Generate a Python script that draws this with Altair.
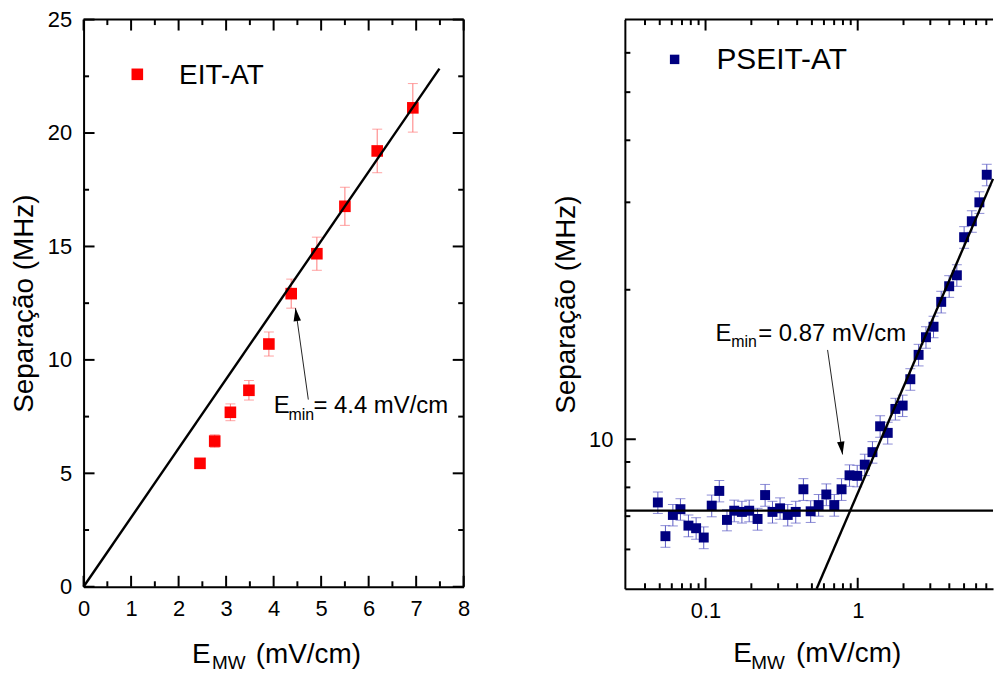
import altair as alt
import pandas as pd

FONT = "Liberation Sans"

# ---------------- data: left panel (EIT-AT) ----------------
eit_x = [2.45, 2.76, 3.09, 3.48, 3.90, 4.37, 4.91, 5.50, 6.18, 6.93]
eit_y = [5.44, 6.42, 7.69, 8.66, 10.70, 12.92, 14.68, 16.77, 19.21, 21.11]
eit_err = [0.18, 0.28, 0.37, 0.43, 0.53, 0.64, 0.73, 0.84, 0.96, 1.07]
eit_fit_x = [0.0, 7.49]
eit_fit_y = [0.0, 22.84]
eit_arrow = {"x1": [4.73], "y1": [8.25], "x2": [4.46], "y2": [12.28]}

# ---------------- data: right panel (PSEIT-AT) ----------------
ps_x = [0.0486, 0.0545, 0.0610, 0.0684, 0.0772, 0.0867, 0.0973, 0.1098, 0.1231, 0.1383,
        0.1544, 0.1734, 0.1936, 0.2197, 0.2463, 0.2754, 0.3089, 0.3469, 0.3915, 0.4396,
        0.4908, 0.5538, 0.6218, 0.7016, 0.7833, 0.8837, 0.9925, 1.113, 1.250, 1.404,
        1.575, 1.768, 1.974, 2.217, 2.513, 2.810, 3.150, 3.538, 3.992, 4.483,
        5.005, 5.622, 6.304, 7.048]
ps_y = [7.46, 6.38, 7.04, 7.23, 6.70, 6.62, 6.34, 7.35, 7.87, 6.88,
        7.18, 7.14, 7.18, 6.91, 7.72, 7.14, 7.26, 7.04, 7.14, 7.93,
        7.16, 7.37, 7.74, 7.37, 7.93, 8.46, 8.44, 8.89, 9.42, 10.62,
        10.30, 11.51, 11.69, 13.21, 14.79, 16.05, 16.85, 18.91, 20.33, 21.39,
        25.52, 27.48, 30.00, 34.09]
ps_err = [0.37, 0.32, 0.35, 0.36, 0.34, 0.33, 0.32, 0.37, 0.39, 0.34,
          0.36, 0.36, 0.36, 0.35, 0.39, 0.36, 0.36, 0.35, 0.36, 0.40,
          0.36, 0.37, 0.39, 0.37, 0.40, 0.42, 0.42, 0.44, 0.47, 0.53,
          0.52, 0.58, 0.58, 0.66, 0.74, 0.80, 0.84, 0.95, 1.02, 1.07,
          1.28, 1.37, 1.50, 1.70]
ps_flat_x = [0.0295, 7.75]
ps_flat_y = [7.18, 7.18]
ps_fit_x = [0.537, 7.75]
ps_fit_y = [5.0, 33.45]
ps_arrow = {"x1": [0.634], "y1": [15.13], "x2": [0.795], "y2": [9.32]}

# ---------------- ticks ----------------
l_x_major = [0, 1, 2, 3, 4, 5, 6, 7, 8]
l_x_minor = [0.5, 1.5, 2.5, 3.5, 4.5, 5.5, 6.5, 7.5]
l_y_major = [0, 5, 10, 15, 20, 25]
l_y_minor = [2.5, 7.5, 12.5, 17.5, 22.5]
r_x_major = [0.1, 1]
r_x_minor = [0.04, 0.05, 0.06, 0.07, 0.08, 0.09, 0.2, 0.3, 0.4, 0.5, 0.6, 0.7,
             0.8, 0.9, 2, 3, 4, 5, 6, 7]
r_y_major = [10]
r_y_minor = [6, 7, 8, 9, 20, 30, 40, 50, 60]

W1, H1 = 382, 570
W2, H2 = 370, 572
MAJ, MIN = 11, 5.5

RED = "#ff0000"
RED_ERR = "#ff7a7a"
NAVY = "#000080"
NAVY_ERR = "#5c5cc4"

ARROW = "M0,0 L0.55,1.9 L-0.55,1.9 Z"

dummy = pd.DataFrame({"d": [0]})

AX_COMMON = dict(ticks=False, tickSize=0, labelFontSize=22, labelPadding=12,
                 domainWidth=2, domainColor="black", grid=False, labelFlush=False,
                 labelOverlap=False, labelColor="black", labelFont=FONT)


def y_axis(values, H, fmt=None):
    kw = dict(AX_COMMON)
    if fmt:
        kw["format"] = fmt
    return alt.Axis(values=values, title="Separação (MHz)", titleFontSize=28,
                    titleFont=FONT, titleFontWeight="normal", titleColor="black",
                    titleX=-51, titleY=H / 2, titleAngle=270, titleAlign="center",
                    titleBaseline="alphabetic", **kw)


def x_axis(values, fmt=None):
    kw = dict(AX_COMMON)
    if fmt:
        kw["format"] = fmt
    return alt.Axis(values=values, title=None, **kw)


def tick_layer(vals, channel, scale, edge, length, W, H):
    df = pd.DataFrame({"v": vals})
    base = alt.Chart(df).mark_rule(color="black", strokeWidth=2)
    if channel == "x":
        enc = dict(x=alt.X("v:Q", scale=scale))
        if edge == "bottom":
            enc.update(y=alt.value(H), y2=alt.value(H - length))
        else:
            enc.update(y=alt.value(0), y2=alt.value(length))
    else:
        enc = dict(y=alt.Y("v:Q", scale=scale))
        if edge == "left":
            enc.update(x=alt.value(0), x2=alt.value(length))
        else:
            enc.update(x=alt.value(W), x2=alt.value(W - length))
    return base.encode(**enc)


def text_layer(txt, x, y, size, align="left"):
    return alt.Chart(dummy).mark_text(
        text=txt, font=FONT, fontSize=size, color="black", align=align,
        baseline="alphabetic"
    ).encode(x=alt.value(x), y=alt.value(y))


def err_layers(df, xs, ys, color, xax, yax):
    bars = alt.Chart(df).mark_rule(color=color, strokeWidth=1).encode(
        x=alt.X("x:Q", scale=xs, axis=xax),
        y=alt.Y("lo:Q", scale=ys, axis=yax), y2="hi:Q")
    cap_lo = alt.Chart(df).mark_tick(orient="horizontal", size=10, thickness=1, color=color).encode(
        x=alt.X("x:Q", scale=xs), y=alt.Y("lo:Q", scale=ys))
    cap_hi = alt.Chart(df).mark_tick(orient="horizontal", size=10, thickness=1, color=color).encode(
        x=alt.X("x:Q", scale=xs), y=alt.Y("hi:Q", scale=ys))
    return [bars, cap_lo, cap_hi]


def arrow_layers(arrow, xs, ys, angle):
    adf = pd.DataFrame(arrow)
    line = alt.Chart(adf).mark_rule(color="#222222", strokeWidth=1).encode(
        x=alt.X("x1:Q", scale=xs), y=alt.Y("y1:Q", scale=ys),
        x2="x2:Q", y2="y2:Q")
    head = alt.Chart(adf).mark_point(shape=ARROW, filled=True, size=185, angle=angle,
                                     color="black", opacity=1, strokeWidth=0).encode(
        x=alt.X("x2:Q", scale=xs), y=alt.Y("y2:Q", scale=ys))
    return [line, head]


# ================= LEFT PANEL =================
xs1 = alt.Scale(domain=[0, 8], nice=False, zero=False)
ys1 = alt.Scale(domain=[0, 25], nice=False, zero=False)

eit_df = pd.DataFrame({"x": eit_x, "y": eit_y, "err": eit_err})
eit_df["lo"] = eit_df["y"] - eit_df["err"]
eit_df["hi"] = eit_df["y"] + eit_df["err"]

left_points = alt.Chart(eit_df).mark_point(shape="square", filled=True, size=136,
                                           color=RED, opacity=1).encode(
    x=alt.X("x:Q", scale=xs1), y=alt.Y("y:Q", scale=ys1))

left_fit = alt.Chart(pd.DataFrame({"x": eit_fit_x, "y": eit_fit_y})).mark_line(
    color="black", strokeWidth=2.4).encode(
    x=alt.X("x:Q", scale=xs1), y=alt.Y("y:Q", scale=ys1))

left_frame = [
    alt.Chart(dummy).mark_rule(color="black", strokeWidth=2).encode(
        x=alt.value(0), x2=alt.value(W1), y=alt.value(0)),
    alt.Chart(dummy).mark_rule(color="black", strokeWidth=2).encode(
        x=alt.value(W1), y=alt.value(0), y2=alt.value(H1)),
    # invisible anchor fixing the page offset of the plot area (84, 18)
    alt.Chart(dummy).mark_rule(opacity=0, strokeWidth=1).encode(
        x=alt.value(-84), y=alt.value(-18), y2=alt.value(-10)),
]

left_ticks = [
    tick_layer(l_x_major, "x", xs1, "bottom", MAJ, W1, H1),
    tick_layer(l_x_minor, "x", xs1, "bottom", MIN, W1, H1),
    tick_layer(l_x_major, "x", xs1, "top", MAJ, W1, H1),
    tick_layer(l_x_minor, "x", xs1, "top", MIN, W1, H1),
    tick_layer(l_y_major, "y", ys1, "left", MAJ, W1, H1),
    tick_layer(l_y_minor, "y", ys1, "left", MIN, W1, H1),
    tick_layer(l_y_major, "y", ys1, "right", MAJ, W1, H1),
    tick_layer(l_y_minor, "y", ys1, "right", MIN, W1, H1),
]

left_legend = [
    alt.Chart(dummy).mark_point(shape="square", filled=True, size=136, color=RED, opacity=1).encode(
        x=alt.value(54), y=alt.value(55)),
    text_layer("EIT-AT", 96, 65, 28),
]

left_texts = [
    text_layer("E", 191, 395, 24),
    text_layer("min", 206, 402, 16),
    text_layer("= 4.4 mV/cm", 231, 395, 24),
    text_layer("E", 109, 647, 28),
    text_layer("MW", 129, 653, 19),
    text_layer("(mV/cm)", 173, 647, 28),
]

left = alt.layer(
    *err_layers(eit_df, xs1, ys1, RED_ERR, x_axis(l_x_major), y_axis(l_y_major, H1)),
    left_points,
    left_fit,
    *arrow_layers(eit_arrow, xs1, ys1, 352),
    *left_ticks,
    *left_frame,
    *left_legend,
    *left_texts,
).properties(width=W1, height=H1)

# ================= RIGHT PANEL =================
xs2 = alt.Scale(type="log", domain=[0.0295, 7.75], nice=False)
ys2 = alt.Scale(type="log", domain=[5, 70], nice=False)

ps_df = pd.DataFrame({"x": ps_x, "y": ps_y, "err": ps_err})
ps_df["lo"] = ps_df["y"] - ps_df["err"]
ps_df["hi"] = ps_df["y"] + ps_df["err"]

right_points = alt.Chart(ps_df).mark_point(shape="square", filled=True, size=100,
                                           color=NAVY, opacity=1).encode(
    x=alt.X("x:Q", scale=xs2), y=alt.Y("y:Q", scale=ys2))

right_flat = alt.Chart(pd.DataFrame({"x": ps_flat_x, "y": ps_flat_y})).mark_line(
    color="black", strokeWidth=2.2).encode(
    x=alt.X("x:Q", scale=xs2), y=alt.Y("y:Q", scale=ys2))
right_fit = alt.Chart(pd.DataFrame({"x": ps_fit_x, "y": ps_fit_y})).mark_line(
    color="black", strokeWidth=2.4).encode(
    x=alt.X("x:Q", scale=xs2), y=alt.Y("y:Q", scale=ys2))

right_frame = [
    alt.Chart(dummy).mark_rule(color="black", strokeWidth=2).encode(
        x=alt.value(0), x2=alt.value(W2), y=alt.value(0)),
]

right_ticks = [
    tick_layer(r_x_major, "x", xs2, "bottom", MAJ, W2, H2),
    tick_layer(r_x_minor, "x", xs2, "bottom", MIN, W2, H2),
    tick_layer(r_x_major, "x", xs2, "top", MAJ, W2, H2),
    tick_layer(r_x_minor, "x", xs2, "top", MIN, W2, H2),
    tick_layer(r_y_major, "y", ys2, "left", MAJ, W2, H2),
    tick_layer(r_y_minor, "y", ys2, "left", MIN, W2, H2),
]

right_legend = [
    alt.Chart(dummy).mark_point(shape="square", filled=True, size=90, color=NAVY, opacity=1).encode(
        x=alt.value(50), y=alt.value(40)),
    text_layer("PSEIT-AT", 92, 50, 30),
]

right_texts = [
    text_layer("E", 91, 323, 24),
    text_layer("min", 107, 329, 16),
    text_layer("= 0.87 mV/cm", 134, 323, 24),
    text_layer("E", 109, 646, 28),
    text_layer("MW", 127, 653, 19),
    text_layer("(mV/cm)", 172, 646, 28),
]

right = alt.layer(
    *err_layers(ps_df, xs2, ys2, NAVY_ERR, x_axis(r_x_major, "~g"), y_axis(r_y_major, H2, "d")),
    right_points,
    right_flat,
    right_fit,
    *arrow_layers(ps_arrow, xs2, ys2, 172),
    *right_ticks,
    *right_frame,
    *right_legend,
    *right_texts,
).properties(width=W2, height=H2)

chart = alt.hconcat(left, right, spacing=162, bounds="flush").properties(
    padding={"left": 0, "top": 0, "right": 0, "bottom": 0},
    background="white",
).configure_view(strokeWidth=0).configure_axis(labelFont=FONT, titleFont=FONT)

chart.save("out.html", embed_options={"renderer": "svg", "actions": False})
